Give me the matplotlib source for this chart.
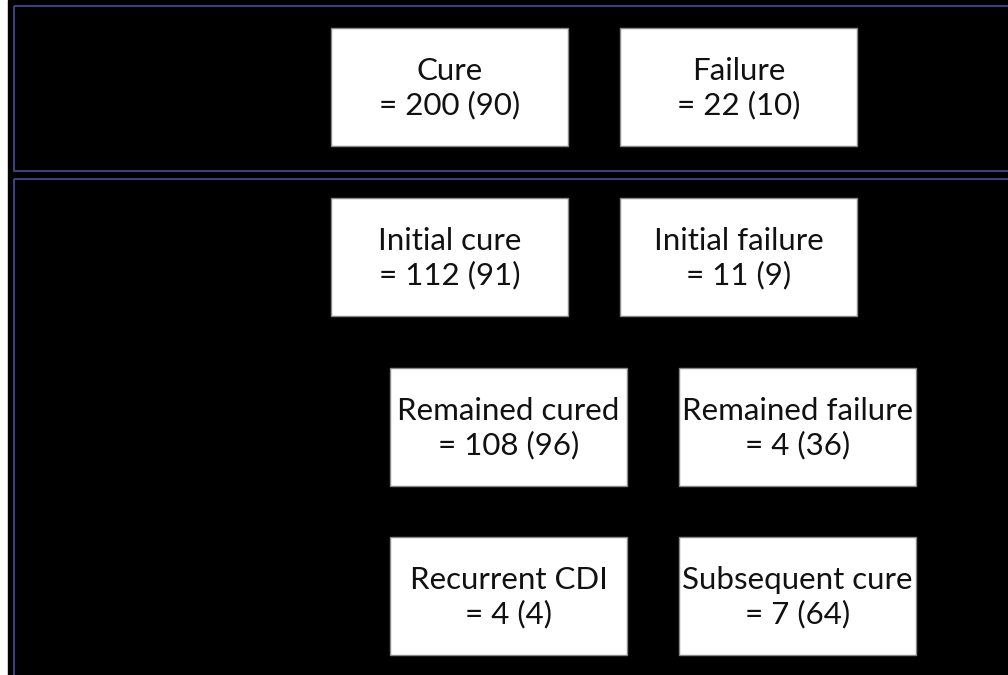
import matplotlib.pyplot as plt
from matplotlib.patches import Rectangle

# box labels and counts (percent in brackets)
labels = ["Cure", "Failure", "Initial cure", "Initial failure",
          "Remained cured", "Remained failure", "Recurrent CDI", "Subsequent cure"]
counts = [200, 22, 112, 11, 108, 4, 4, 7]
percents = [90, 10, 91, 9, 96, 36, 4, 64]

# layout in pixels (left, top) of each box
box_left = [331, 620, 331, 620, 390, 679, 390, 679]
box_top = [28, 28, 198, 198, 368, 368, 537, 537]
box_w, box_h = 237, 118

W, H = 1008, 675
fig = plt.figure(figsize=(W / 100, H / 100), dpi=100)
ax = fig.add_axes([0, 0, 1, 1])
ax.set_xlim(0, W)
ax.set_ylim(H, 0)
ax.axis("off")

# black background, white margin on left
ax.add_patch(Rectangle((8, 0), W, H, color="black", zorder=0))

frame = "#3b3f86"
ax.add_patch(Rectangle((13.5, 5.5), W, 165, fill=False, edgecolor=frame, lw=1.5, zorder=1))
ax.add_patch(Rectangle((13.5, 178.5), W, H, fill=False, edgecolor=frame, lw=1.5, zorder=1))

for lab, n, p, x, y in zip(labels, counts, percents, box_left, box_top):
    ax.add_patch(Rectangle((x, y), box_w, box_h, facecolor="white",
                           edgecolor="#888888", lw=1, zorder=2))
    ax.text(x + box_w / 2, y + box_h / 2 + 1, "%s\n= %d (%d)" % (lab, n, p),
            ha="center", va="center", fontsize=22.5, family="Lato",
            linespacing=1.25, color="#111111", zorder=3)

fig.savefig("out.png", dpi=100)
